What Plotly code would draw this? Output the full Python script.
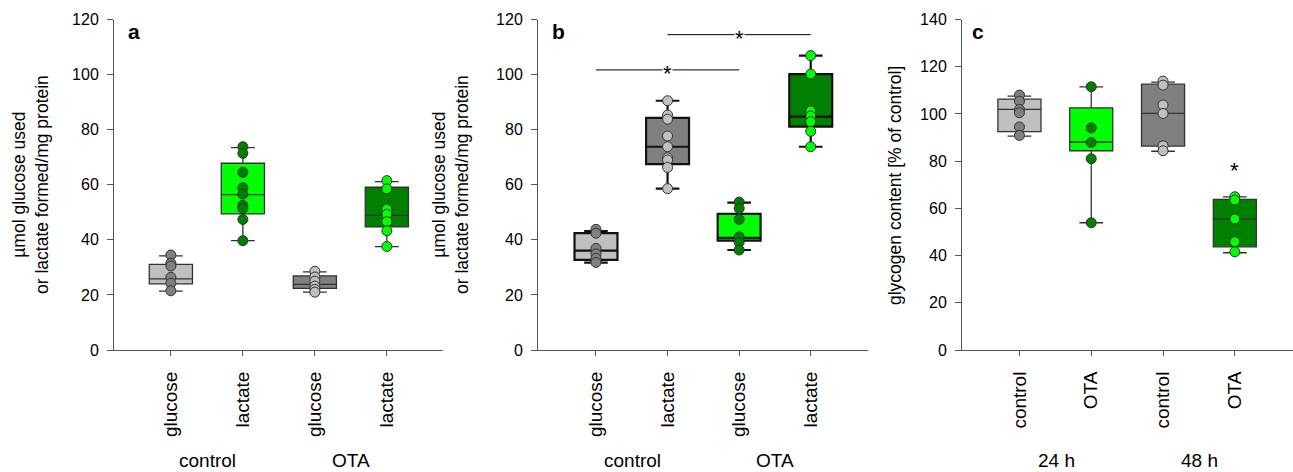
import plotly.graph_objects as go

# ---------------- data ----------------
cat_labels_ab = ["glucose", "lactate", "glucose", "lactate"]
group_labels_ab = ["control", "OTA"]
cat_labels_c = ["control", "OTA", "control", "OTA"]
group_labels_c = ["24 h", "48 h"]
positions = [0, 1, 2, 3]

# panel a
a_q1 = [24.0, 49.4, 22.4, 44.7]
a_med = [25.8, 56.4, 23.8, 48.9]
a_q3 = [31.1, 67.8, 26.9, 59.1]
a_lo = [21.4, 39.7, 21.0, 37.5]
a_hi = [34.2, 73.5, 28.4, 61.1]
a_ctrl_glu = [34.5, 31.5, 30.5, 26.4, 24.2, 21.5]
a_ctrl_lac = [73.8, 71.4, 64.5, 58.9, 56.6, 52.5, 51.4, 47.4, 39.7]
a_ota_glu = [28.6, 26.5, 25.0, 23.2, 22.0, 21.0]
a_ota_lac = [61.5, 58.5, 51.1, 49.3, 46.6, 43.3, 37.6]

# panel b
b_q1 = [32.7, 67.5, 39.7, 81.1]
b_med = [36.1, 73.8, 40.7, 84.7]
b_q3 = [42.4, 84.3, 49.4, 100.2]
b_lo = [31.7, 58.6, 36.3, 73.8]
b_hi = [43.2, 90.5, 53.5, 106.9]
b_ctrl_glu = [43.8, 42.4, 36.9, 34.9, 33.3, 31.8]
b_ctrl_lac = [90.5, 85.3, 83.8, 77.7, 73.8, 69.8, 69.0, 66.3, 58.6]
b_ota_glu = [53.7, 51.4, 47.4, 41.1, 39.1, 36.3]
b_ota_lac = [106.9, 100.2, 86.8, 85.0, 82.9, 79.4, 73.8]

# panel c
c_q1 = [92.5, 84.4, 86.4, 43.7]
c_med = [101.9, 88.1, 100.2, 55.5]
c_q3 = [106.3, 102.6, 112.6, 63.8]
c_lo = [90.6, 53.9, 84.2, 41.2]
c_hi = [107.5, 111.5, 113.5, 64.9]
c_24_ctrl = [108.0, 105.4, 101.9, 100.5, 94.5, 90.9]
c_24_ota = [111.5, 94.1, 87.9, 81.0, 53.9]
c_48_ctrl = [113.9, 112.2, 103.8, 100.2, 86.5, 84.4]
c_48_ota = [64.9, 63.5, 55.5, 45.9, 41.6]

# significance markers
b_sig_from = [0, 1]
b_sig_to = [2, 3]
b_sig_y = [101.7, 114.5]
c_star_x = [3]
c_star_y = [76.0]

# ---------------- styling ----------------
W, H = 1293, 472
LG, DG, BG, DKG = "#c0c0c0", "#808080", "#00ff00", "#008000"
box_fill_ac = [LG, BG, DG, DKG]
pt_fill_ac = [DG, DKG, LG, BG]
box_fill_b = [LG, DG, BG, DKG]
pt_fill_b = [DG, LG, DKG, BG]
FONT = "Arial, Liberation Sans, sans-serif"
AXC = "#555555"

x_dom = [[114 / W, 443 / W], [538 / W, 868 / W], [962 / W, 1.0]]
x_rng = [[-0.79, 3.78], [-0.81, 3.80], [-0.80, 3.81]]
y_dom = [122 / H, 452.5 / H]

fig = go.Figure()

panels = [
    (a_q1, a_med, a_q3, a_lo, a_hi, [a_ctrl_glu, a_ctrl_lac, a_ota_glu, a_ota_lac],
     box_fill_ac, pt_fill_ac, "#333333", 1.3),
    (b_q1, b_med, b_q3, b_lo, b_hi, [b_ctrl_glu, b_ctrl_lac, b_ota_glu, b_ota_lac],
     box_fill_b, pt_fill_b, "#111111", 2.2),
    (c_q1, c_med, c_q3, c_lo, c_hi, [c_24_ctrl, c_24_ota, c_48_ctrl, c_48_ota],
     box_fill_ac, pt_fill_ac, "#333333", 1.3),
]

for pi, (q1, med, q3, lo, hi, pts, bf, pf, lc, lw) in enumerate(panels):
    xa = "x" if pi == 0 else f"x{pi+1}"
    ya = "y" if pi == 0 else f"y{pi+1}"
    for i, p in enumerate(positions):
        fig.add_trace(go.Box(
            x=[p], q1=[q1[i]], median=[med[i]], q3=[q3[i]],
            lowerfence=[lo[i]], upperfence=[hi[i]],
            fillcolor=bf[i], line=dict(color=lc, width=lw),
            width=0.6, whiskerwidth=0.55, boxpoints=False,
            showlegend=False, hoverinfo="skip", xaxis=xa, yaxis=ya,
        ))
    for i, p in enumerate(positions):
        fig.add_trace(go.Scatter(
            x=[p] * len(pts[i]), y=pts[i], mode="markers",
            marker=dict(size=10, color=pf[i], line=dict(color="#333333", width=1)),
            showlegend=False, hoverinfo="skip", xaxis=xa, yaxis=ya,
        ))

# significance lines in panel b
for f, t, yv in zip(b_sig_from, b_sig_to, b_sig_y):
    fig.add_trace(go.Scatter(
        x=[f, t], y=[yv, yv], mode="lines", line=dict(color="black", width=1),
        showlegend=False, hoverinfo="skip", xaxis="x2", yaxis="y2", cliponaxis=False,
    ))
    fig.add_annotation(x=(f + t) / 2, y=yv, xref="x2", yref="y2", text="*",
                       showarrow=False, bgcolor="white", borderpad=0,
                       font=dict(family=FONT, size=22, color="black"), yshift=-4)
for xs, ys in zip(c_star_x, c_star_y):
    fig.add_annotation(x=xs, y=ys, xref="x3", yref="y3", text="*", showarrow=False,
                       font=dict(family=FONT, size=22, color="black"))

y_ranges = [[0, 120], [0, 120], [0, 140]]
tick_texts = [cat_labels_ab, cat_labels_ab, cat_labels_c]
for pi in range(3):
    sfx = "" if pi == 0 else str(pi + 1)
    fig.update_layout(**{
        f"xaxis{sfx}": dict(
            domain=x_dom[pi], range=x_rng[pi], anchor=f"y{sfx}", automargin=False,
            tickvals=positions, ticktext=tick_texts[pi], tickangle=-90,
            ticks="outside", ticklen=5, tickcolor=AXC, showline=True, linecolor=AXC,
            linewidth=1, showgrid=False, zeroline=False, ticklabelstandoff=8,
            tickfont=dict(family=FONT, size=19, color="black"), fixedrange=True,
        ),
        f"yaxis{sfx}": dict(
            domain=y_dom, range=y_ranges[pi], anchor=f"x{sfx}", dtick=20, automargin=False,
            ticks="outside", ticklen=6, tickcolor=AXC, showline=True, linecolor=AXC,
            linewidth=1, showgrid=False, zeroline=False, ticklabelstandoff=5,
            tickfont=dict(family=FONT, size=16, color="black"), fixedrange=True,
        ),
    })

# group labels below x axes
grp_x = [[207, 351], [632, 775], [1056, 1199]]
grp_t = [group_labels_ab, group_labels_ab, group_labels_c]
for gx, gt in zip(grp_x, grp_t):
    for xx, tt in zip(gx, gt):
        fig.add_annotation(x=xx / W, y=1 - 460 / H, xref="paper", yref="paper", text=tt,
                           showarrow=False, xanchor="center", yanchor="middle",
                           font=dict(family=FONT, size=19, color="black"))

# panel letters
for lx, lt in zip([134, 558, 978], ["a", "b", "c"]):
    fig.add_annotation(x=lx / W, y=1 - 31 / H, xref="paper", yref="paper", text=f"<b>{lt}</b>",
                       showarrow=False, xanchor="center", yanchor="middle",
                       font=dict(family=FONT, size=21, color="black"))

# y titles
ytitle_ab = "µmol glucose used<br>or lactate formed/mg protein"
for tx in [31, 451]:
    fig.add_annotation(x=tx / W, y=1 - 185 / H, xref="paper", yref="paper", text=ytitle_ab,
                       textangle=-90, showarrow=False, xanchor="center", yanchor="middle",
                       font=dict(family=FONT, size=17.5, color="black"))
fig.add_annotation(x=895 / W, y=1 - 185 / H, xref="paper", yref="paper",
                   text="glycogen content [% of control]", textangle=-90, showarrow=False,
                   xanchor="center", yanchor="middle",
                   font=dict(family=FONT, size=17.5, color="black"))

fig.update_layout(
    width=W, height=H, margin=dict(l=0, r=0, t=0, b=0, autoexpand=False),
    paper_bgcolor="white", plot_bgcolor="white", boxmode="overlay",
)

fig.write_html("out.html", config={"displayModeBar": False},
               post_script="document.body.style.margin='0';document.body.style.overflow='hidden';")
